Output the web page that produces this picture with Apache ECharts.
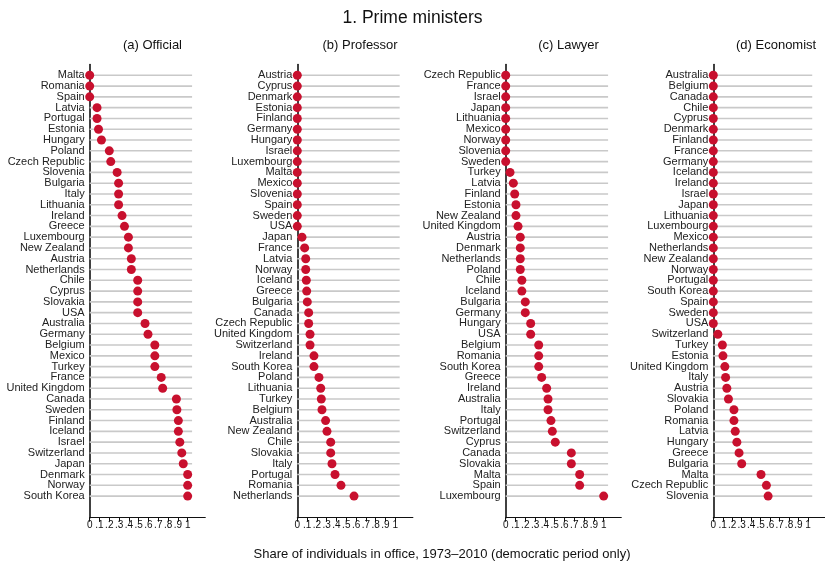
<!DOCTYPE html>
<html>
<head>
<meta charset="utf-8">
<script src="https://cdn.jsdelivr.net/npm/echarts@6/dist/echarts.min.js"></script>
<style>
  html, body { margin: 0; padding: 0; background: #fff; }
  #chart { width: 825px; height: 566px; }
</style>
</head>
<body>
<div id="chart"></div>
<script>
// Share of prime ministers with each occupational background, by country

const officialNames = ['Malta', 'Romania', 'Spain', 'Latvia', 'Portugal', 'Estonia', 'Hungary', 'Poland',
  'Czech Republic', 'Slovenia', 'Bulgaria', 'Italy', 'Lithuania', 'Ireland', 'Greece', 'Luxembourg',
  'New Zealand', 'Austria', 'Netherlands', 'Chile', 'Cyprus', 'Slovakia', 'USA', 'Australia', 'Germany',
  'Belgium', 'Mexico', 'Turkey', 'France', 'United Kingdom', 'Canada', 'Sweden', 'Finland', 'Iceland',
  'Israel', 'Switzerland', 'Japan', 'Denmark', 'Norway', 'South Korea'];
const officialValues = [0, 0, 0, 0.075, 0.075, 0.09, 0.12, 0.20,
  0.215, 0.28, 0.295, 0.295, 0.295, 0.33, 0.355, 0.395,
  0.395, 0.425, 0.425, 0.49, 0.49, 0.49, 0.49, 0.565, 0.595,
  0.665, 0.665, 0.665, 0.73, 0.745, 0.885, 0.89, 0.905, 0.905,
  0.92, 0.94, 0.955, 1, 1, 1];

const professorNames = ['Austria', 'Cyprus', 'Denmark', 'Estonia', 'Finland', 'Germany', 'Hungary', 'Israel',
  'Luxembourg', 'Malta', 'Mexico', 'Slovenia', 'Spain', 'Sweden', 'USA', 'Japan', 'France', 'Latvia',
  'Norway', 'Iceland', 'Greece', 'Bulgaria', 'Canada', 'Czech Republic', 'United Kingdom', 'Switzerland',
  'Ireland', 'South Korea', 'Poland', 'Lithuania', 'Turkey', 'Belgium', 'Australia', 'New Zealand',
  'Chile', 'Slovakia', 'Italy', 'Portugal', 'Romania', 'Netherlands'];
const professorValues = [0, 0, 0, 0, 0, 0, 0, 0,
  0, 0, 0, 0, 0, 0, 0, 0.048, 0.075, 0.086,
  0.086, 0.092, 0.096, 0.102, 0.116, 0.116, 0.13, 0.13,
  0.17, 0.17, 0.221, 0.239, 0.245, 0.252, 0.289, 0.303,
  0.341, 0.341, 0.354, 0.385, 0.446, 0.579];

const lawyerNames = ['Czech Republic', 'France', 'Israel', 'Japan', 'Lithuania', 'Mexico', 'Norway',
  'Slovenia', 'Sweden', 'Turkey', 'Latvia', 'Finland', 'Estonia', 'New Zealand', 'United Kingdom',
  'Austria', 'Denmark', 'Netherlands', 'Poland', 'Chile', 'Iceland', 'Bulgaria', 'Germany', 'Hungary',
  'USA', 'Belgium', 'Romania', 'South Korea', 'Greece', 'Ireland', 'Australia', 'Italy', 'Portugal',
  'Switzerland', 'Cyprus', 'Canada', 'Slovakia', 'Malta', 'Spain', 'Luxembourg'];
const lawyerValues = [0, 0, 0, 0, 0, 0, 0,
  0, 0, 0.044, 0.078, 0.092, 0.105, 0.105, 0.126,
  0.149, 0.149, 0.149, 0.149, 0.165, 0.165, 0.2, 0.2, 0.255,
  0.255, 0.337, 0.337, 0.337, 0.367, 0.418, 0.432, 0.432, 0.462,
  0.476, 0.506, 0.67, 0.67, 0.755, 0.755, 1];

const economistNames = ['Australia', 'Belgium', 'Canada', 'Chile', 'Cyprus', 'Denmark', 'Finland', 'France',
  'Germany', 'Iceland', 'Ireland', 'Israel', 'Japan', 'Lithuania', 'Luxembourg', 'Mexico', 'Netherlands',
  'New Zealand', 'Norway', 'Portugal', 'South Korea', 'Spain', 'Sweden', 'USA', 'Switzerland', 'Turkey',
  'Estonia', 'United Kingdom', 'Italy', 'Austria', 'Slovakia', 'Poland', 'Romania', 'Latvia', 'Hungary',
  'Greece', 'Bulgaria', 'Malta', 'Czech Republic', 'Slovenia'];
const economistValues = [0, 0, 0, 0, 0, 0, 0, 0,
  0, 0, 0, 0, 0, 0, 0, 0, 0,
  0, 0, 0, 0, 0, 0, 0, 0.048, 0.096,
  0.102, 0.122, 0.13, 0.143, 0.16, 0.218, 0.218, 0.232, 0.249,
  0.272, 0.3, 0.504, 0.561, 0.579];

const panelTitles = ['(a) Official', '(b) Professor', '(c) Lawyer', '(d) Economist'];
const tickValues = [0, 0.1, 0.2, 0.3, 0.4, 0.5, 0.6, 0.7, 0.8, 0.9, 1];
const tickLabels = ['0', '.1', '.2', '.3', '.4', '.5', '.6', '.7', '.8', '.9', '1'];

const panels = [
  { names: officialNames, values: officialValues },
  { names: professorNames, values: professorValues },
  { names: lawyerNames, values: lawyerValues },
  { names: economistNames, values: economistValues }
];

// layout
const FONT = 'Liberation Sans, Arial, Helvetica, sans-serif';
const PANEL_LEFT = [89.7, 297.3, 505.7, 713.3];
const PLOT_W = 115.6;
const X_MAX = 1.18;
const GUIDE_END = 1.045;   // horizontal guide lines stop just past 1
const TOP = 64.5;
const ROW = 10.79;
const HEIGHT = ROW * 42;
const DOT = '#c8102e';

const grids = [], xAxes = [], yAxes = [], series = [], titles = [];

titles.push({
  text: '1. Prime ministers', left: 'center', top: 4,
  textStyle: { fontFamily: FONT, fontSize: 17.5, fontWeight: 'normal', color: '#111' }
});

panels.forEach((p, k) => {
  const cats = [''].concat(p.names, ['', '']);
  grids.push({ left: PANEL_LEFT[k], top: TOP, width: PLOT_W, height: HEIGHT, containLabel: false });
  titles.push({
    text: panelTitles[k], left: PANEL_LEFT[k] + PLOT_W / 2, top: 34, textAlign: 'center',
    textStyle: { fontFamily: FONT, fontSize: 13, fontWeight: 'normal', color: '#111' }
  });
  xAxes.push({
    type: 'value', gridIndex: k, min: 0, max: X_MAX,
    axisLine: { show: true, onZero: false, lineStyle: { color: '#111', width: 1 } },
    axisTick: { show: true, customValues: tickValues, length: 4, lineStyle: { color: '#111', width: 1 } },
    axisLabel: {
      customValues: tickValues, margin: 3,
      formatter: v => tickLabels[tickValues.findIndex(t => Math.abs(t - v) < 1e-6)] || '',
      fontFamily: FONT, fontSize: 10, color: '#111'
    },
    splitLine: { show: false }
  });
  yAxes.push({
    type: 'category', gridIndex: k, data: cats, inverse: true, boundaryGap: false,
    axisLine: { show: true, lineStyle: { color: '#111', width: 1.6 } },
    axisTick: { show: false },
    axisLabel: { interval: 0, margin: 5, fontFamily: FONT, fontSize: 11, color: '#222' },
    splitLine: { show: false }
  });
  series.push({
    type: 'bar', xAxisIndex: k, yAxisIndex: k, silent: true, barWidth: 1.6,
    itemStyle: { color: '#c9c9c9' }, z: 1,
    data: ['-'].concat(p.names.map(() => GUIDE_END), ['-', '-'])
  });
  series.push({
    type: 'scatter', xAxisIndex: k, yAxisIndex: k, symbolSize: 9, z: 5,
    itemStyle: { color: DOT, opacity: 1 },
    data: p.values.map((v, i) => [v, i + 1])
  });
});

titles.push({
  text: 'Share of individuals in office, 1973\u20132010 (democratic period only)',
  left: 437, top: 543, textAlign: 'center',
  textStyle: { fontFamily: FONT, fontSize: 13, fontWeight: 'normal', color: '#111' }
});

const chart = echarts.init(document.getElementById('chart'), null, { renderer: 'canvas' });
chart.setOption({
  backgroundColor: '#ffffff',
  animation: false,
  title: titles,
  grid: grids,
  xAxis: xAxes,
  yAxis: yAxes,
  series: series
});
</script>
</body>
</html>
